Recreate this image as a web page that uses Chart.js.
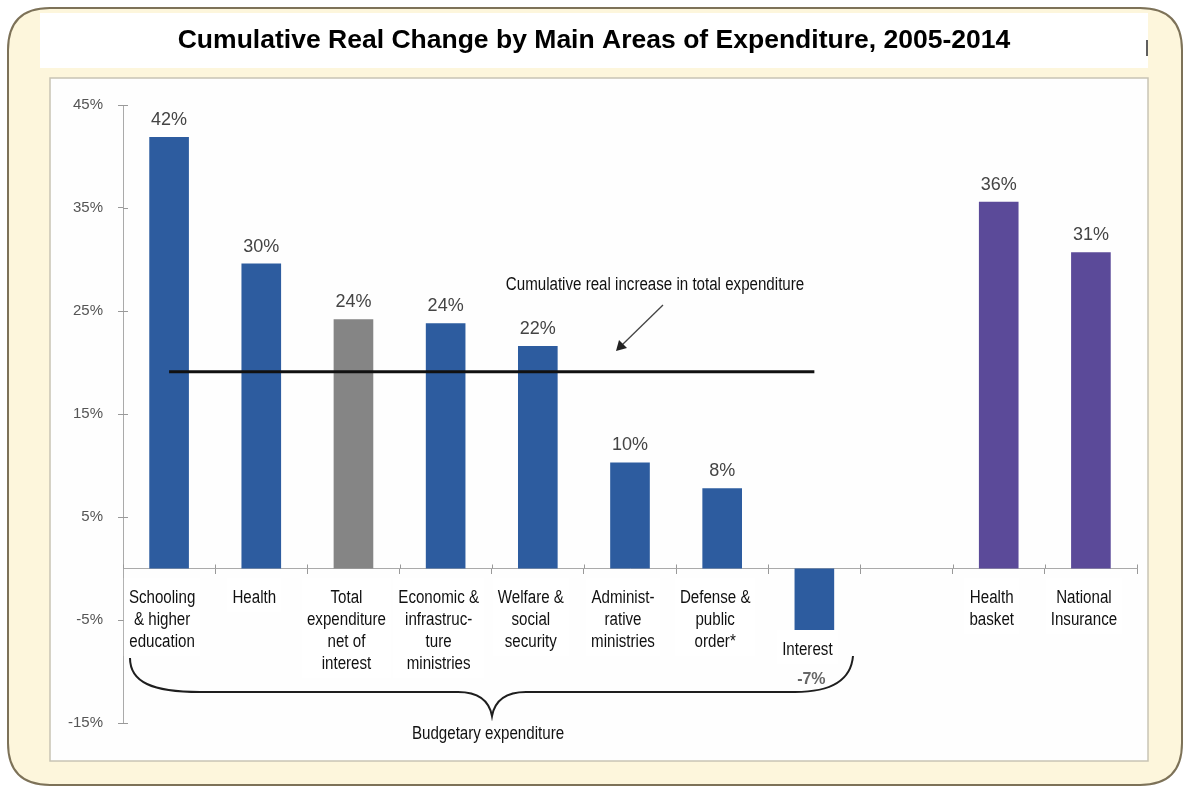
<!DOCTYPE html>
<html><head><meta charset="utf-8">
<script src="https://cdn.jsdelivr.net/npm/chart.js@4.4.1/dist/chart.umd.min.js"></script>
<style>html,body{margin:0;padding:0;background:#fff}#wrap{width:1189px;height:791px;position:relative}</style>
</head><body><div id="wrap"><canvas id="c" width="1189" height="791"></canvas></div>
<script>
const categories = [
  ["Schooling","& higher","education"],
  ["Health"],
  ["Total","expenditure","net of","interest"],
  ["Economic &","infrastruc-","ture","ministries"],
  ["Welfare &","social","security"],
  ["Administ-","rative","ministries"],
  ["Defense &","public","order*"],
  ["Interest"],
  [],
  ["Health","basket"],
  ["National","Insurance"]
];
const values = [41.9, 29.6, 24.2, 23.8, 21.6, 10.3, 7.8, -7.0, null, 35.6, 30.7];
const valueLabels = ["42%","30%","24%","24%","22%","10%","8%","-7%","","36%","31%"];
const groups = ["budget","budget","total","budget","budget","budget","budget","budget","none","other","other"];
const totalIncrease = [19.1, 19.1, 19.1, 19.1, 19.1, 19.1, 19.1, 19.1, null, null, null];
const yTicks = [-15, -5, 5, 15, 25, 35, 45];
const titleText = "Cumulative Real Change by Main Areas of Expenditure, 2005-2014";
const lineNote = "Cumulative real increase in total expenditure";
const braceNote = "Budgetary expenditure";

const groupColors = {budget:"#2d5c9f", total:"#858585", other:"#5b4a99", none:"#ffffff"};
const FONT = '"Liberation Sans", Arial, Helvetica, sans-serif';
const NARROW = 0.84;

function roundRect(ctx,x,y,w,h,r){
  ctx.beginPath();
  ctx.moveTo(x+r,y);ctx.lineTo(x+w-r,y);ctx.quadraticCurveTo(x+w,y,x+w,y+r);
  ctx.lineTo(x+w,y+h-r);ctx.quadraticCurveTo(x+w,y+h,x+w-r,y+h);
  ctx.lineTo(x+r,y+h);ctx.quadraticCurveTo(x,y+h,x,y+h-r);
  ctx.lineTo(x,y+r);ctx.quadraticCurveTo(x,y,x+r,y);ctx.closePath();
}
function narrowText(ctx,t,x,y){
  ctx.save();ctx.translate(x,y);ctx.scale(NARROW,1);ctx.fillText(t,0,0);ctx.restore();
}

const decor = {
  id:'decor',
  beforeDraw(chart){
    const ctx = chart.ctx;
    ctx.save();
    ctx.fillStyle='#ffffff';ctx.fillRect(0,0,chart.width,chart.height);
    roundRect(ctx,8,8,1174,777,42);
    ctx.fillStyle='#fdf6dc';ctx.fill();
    ctx.lineWidth=2;ctx.strokeStyle='#7d7258';ctx.stroke();
    ctx.fillStyle='#fefefe';ctx.fillRect(50,78,1098,683);
    ctx.strokeStyle='#c8c4b4';ctx.lineWidth=1.5;ctx.strokeRect(50,78,1098,683);
    ctx.fillStyle='#ffffff';ctx.fillRect(40,13,1108,55);
    ctx.strokeStyle='#2a2a2a';ctx.lineWidth=1.5;
    ctx.beginPath();ctx.moveTo(1147,40);ctx.lineTo(1147,56);ctx.stroke();
    ctx.font='bold 21px '+FONT;
    const w=ctx.measureText(titleText).width;
    const fs=21*833/w;
    ctx.font='bold '+fs.toFixed(2)+'px '+FONT;
    ctx.fillStyle='#000';ctx.textAlign='center';ctx.textBaseline='middle';
    ctx.fillText(titleText,594,41);
    ctx.restore();
  },
  afterDatasetsDraw(chart){
    const ctx=chart.ctx, meta=chart.getDatasetMeta(1);
    ctx.save();
    ctx.font='18px '+FONT;ctx.fillStyle='#444';ctx.textAlign='center';ctx.textBaseline='bottom';
    meta.data.forEach((el,i)=>{
      if(values[i]==null) return;
      if(values[i]>=0){ctx.fillText(valueLabels[i],el.x,el.y-8);}
    });
    ctx.restore();
  },
  afterDraw(chart){
    const ctx=chart.ctx, xs=chart.scales.x, ys=chart.scales.y, a=chart.chartArea;
    const y0=ys.getPixelForValue(0);
    ctx.save();
    ctx.strokeStyle='#999';ctx.lineWidth=1;
    yTicks.forEach(v=>{const y=Math.round(ys.getPixelForValue(v))+0.5;ctx.beginPath();ctx.moveTo(a.left,y);ctx.lineTo(a.left+5,y);ctx.stroke();});
    const cw=(a.right-a.left)/categories.length;
    for(let i=0;i<=categories.length;i++){const x=Math.round(a.left+i*cw)+0.5;ctx.beginPath();ctx.moveTo(x,y0-4);ctx.lineTo(x,y0);ctx.stroke();}
    // brace
    ctx.strokeStyle='#1e1e1e';ctx.lineWidth=2;
    ctx.beginPath();
    ctx.moveTo(130,658);
    ctx.bezierCurveTo(130,682,152,692,200,692);
    ctx.lineTo(458,692);
    ctx.bezierCurveTo(478,692,489,700,492,716);
    ctx.bezierCurveTo(495,700,506,692,526,692);
    ctx.lineTo(795,692);
    ctx.bezierCurveTo(832,692,851,680,853,656);
    ctx.stroke();
    // category label boxes
    ctx.font='18px '+FONT;ctx.textAlign='center';ctx.textBaseline='middle';
    categories.forEach((lines,i)=>{
      if(!lines.length) return;
      const cx=xs.getPixelForValue(i)-7;
      let mw=0;lines.forEach(l=>mw=Math.max(mw,ctx.measureText(l).width*NARROW));
      const top=(i===7)?630:578;
      const h=lines.length*22+12;
      ctx.fillStyle='#ffffff';ctx.fillRect(cx-mw/2-5,top,mw+10,h);
      ctx.fillStyle='#111';
      lines.forEach((l,k)=>narrowText(ctx,l,cx,top+20+k*22));
    });
    const meta=chart.getDatasetMeta(1);
    ctx.font='bold 16px '+FONT;ctx.fillStyle='#666';
    meta.data.forEach((el,i)=>{ if(values[i]!=null && values[i]<0){ctx.fillText(valueLabels[i],el.x-3,el.y+39);} });
    ctx.font='18px '+FONT;ctx.fillStyle='#111';
    narrowText(ctx,lineNote,655,285);
    narrowText(ctx,braceNote,488,734);
    // arrow
    ctx.strokeStyle='#444';ctx.lineWidth=1.3;
    ctx.beginPath();ctx.moveTo(663,305);ctx.lineTo(622,345);ctx.stroke();
    ctx.fillStyle='#222';
    ctx.beginPath();ctx.moveTo(616,351);ctx.lineTo(619,340);ctx.lineTo(627,348);ctx.closePath();ctx.fill();
    ctx.restore();
  }
};

new Chart(document.getElementById('c'),{
  type:'bar',
  data:{
    labels:categories.map(c=>c.join(' ')),
    datasets:[
      {type:'line',data:totalIncrease,borderColor:'#111',borderWidth:3,pointRadius:0,order:0,spanGaps:false},
      {type:'bar',data:values,backgroundColor:groups.map(g=>groupColors[g]),barPercentage:0.43,categoryPercentage:1,order:1}
    ]
  },
  options:{
    responsive:false,animation:false,devicePixelRatio:1,
    layout:{padding:{top:105,bottom:68,left:0,right:52}},
    plugins:{legend:{display:false},tooltip:{enabled:false},title:{display:false}},
    scales:{
      x:{position:{y:0},ticks:{display:false},
         grid:{display:true,drawOnChartArea:false,drawTicks:true,tickLength:5,color:'#999',offset:true},
         border:{display:true,color:'#aaa',width:1},
         afterFit(s){s.height=0;}},
      y:{min:-15,max:45,
         afterBuildTicks(s){s.ticks=yTicks.map(v=>({value:v}));},
         ticks:{callback:v=>v+'%',color:'#555',font:{size:15,family:FONT},padding:15},
         grid:{drawOnChartArea:false,drawTicks:true,tickLength:5,color:'#999'},
         border:{display:true,color:'#aaa',width:1},
         afterFit(s){s.width=123;}}
    }
  },
  plugins:[decor]
});
</script></body></html>
